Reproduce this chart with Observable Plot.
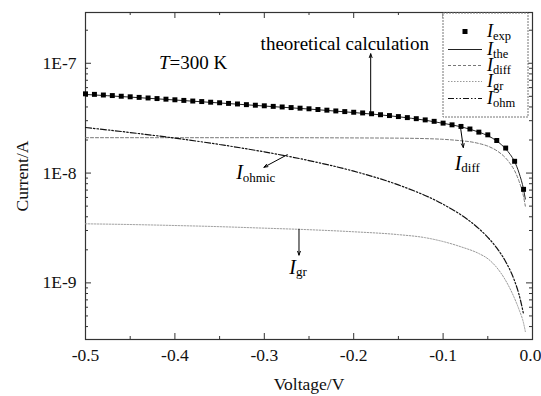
<!DOCTYPE html>
<html><head><meta charset="utf-8">
<script src="https://cdn.jsdelivr.net/npm/d3@7"></script>
<script src="https://cdn.jsdelivr.net/npm/@observablehq/plot@0.6"></script>
<style>
html,body{margin:0;padding:0;background:#fff;}
#chart svg, #chart svg text, #chart svg tspan { font-family: "Liberation Serif", "Times New Roman", serif !important; }
</style>
</head><body><div id="chart"></div>
<script>
// ---- data ----
const expV = [-0.50,-0.49,-0.48,-0.47,-0.46,-0.45,-0.44,-0.43,-0.42,-0.41,-0.40,-0.39,-0.38,-0.37,-0.36,-0.35,-0.34,-0.33,-0.32,-0.31,-0.30,-0.29,-0.28,-0.27,-0.26,-0.25,-0.24,-0.23,-0.22,-0.21,-0.20,-0.19,-0.18,-0.17,-0.16,-0.15,-0.14,-0.13,-0.12,-0.11,-0.10,-0.09,-0.08,-0.07,-0.06,-0.05,-0.04,-0.03,-0.02,-0.01];
const expI = [5.27e-8,5.21e-8,5.14e-8,5.08e-8,5.01e-8,4.95e-8,4.89e-8,4.83e-8,4.77e-8,4.71e-8,4.65e-8,4.59e-8,4.53e-8,4.48e-8,4.42e-8,4.37e-8,4.31e-8,4.26e-8,4.20e-8,4.15e-8,4.10e-8,4.05e-8,4.00e-8,3.95e-8,3.90e-8,3.85e-8,3.79e-8,3.74e-8,3.68e-8,3.63e-8,3.58e-8,3.53e-8,3.47e-8,3.40e-8,3.34e-8,3.27e-8,3.20e-8,3.13e-8,3.05e-8,2.96e-8,2.85e-8,2.75e-8,2.66e-8,2.52e-8,2.36e-8,2.23e-8,1.98e-8,1.69e-8,1.28e-8,7.11e-9];

const theV = [-0.5,-0.45,-0.4,-0.35,-0.3,-0.25,-0.2,-0.15,-0.12,-0.1,-0.08,-0.07,-0.06,-0.05,-0.04,-0.03,-0.025,-0.02,-0.015,-0.01,-0.008];
const theI = [5.2e-8,4.92e-8,4.63e-8,4.35e-8,4.08e-8,3.83e-8,3.56e-8,3.26e-8,3.03e-8,2.84e-8,2.64e-8,2.51e-8,2.36e-8,2.19e-8,1.96e-8,1.66e-8,1.48e-8,1.27e-8,1.0e-8,7.1e-9,5.8e-9];

const diffV = [-0.5,-0.4,-0.3,-0.2,-0.15,-0.12,-0.1,-0.08,-0.07,-0.06,-0.05,-0.04,-0.03,-0.025,-0.02,-0.015,-0.01,-0.008];
const diffI = [2.1e-8,2.1e-8,2.1e-8,2.09e-8,2.08e-8,2.06e-8,2.03e-8,1.97e-8,1.93e-8,1.86e-8,1.76e-8,1.6e-8,1.37e-8,1.22e-8,1.05e-8,8.4e-9,6.1e-9,5.0e-9];

const grV = [-0.5,-0.45,-0.4,-0.35,-0.3,-0.25,-0.2,-0.15,-0.12,-0.1,-0.08,-0.06,-0.05,-0.04,-0.03,-0.02,-0.015,-0.01,-0.008];
const grI = [3.45e-9,3.4e-9,3.33e-9,3.25e-9,3.15e-9,3.05e-9,2.92e-9,2.75e-9,2.58e-9,2.38e-9,2.13e-9,1.85e-9,1.66e-9,1.38e-9,1.05e-9,7.2e-10,5.7e-10,4.3e-10,3.6e-10];

const ohmV = [-0.5,-0.45,-0.4,-0.35,-0.3,-0.25,-0.2,-0.15,-0.1,-0.08,-0.06,-0.05,-0.04,-0.03,-0.02,-0.015,-0.01];
const ohmI = [2.6e-8,2.34e-8,2.08e-8,1.82e-8,1.56e-8,1.3e-8,1.04e-8,7.8e-9,5.2e-9,4.16e-9,3.12e-9,2.6e-9,2.08e-9,1.56e-9,1.04e-9,7.8e-10,5.2e-10];

const xTickVals = [-0.5,-0.4,-0.3,-0.2,-0.1,0.0];
const xTickLabels = ["-0.5","-0.4","-0.3","-0.2","-0.1","0.0"];
const xMinorVals = [-0.45,-0.35,-0.25,-0.15,-0.05];
const yTickVals = [1e-9,1e-8,1e-7];
const yTickLabels = ["1E-9","1E-8","1E-7"];

const legendLabels = ["exp","the","diff","gr","ohm"];

// annotations
const arrowsData = [
  {x1:-0.181, y1:3.47e-8, x2:-0.181, y2:1.22e-7},
  {x1:-0.0807, y1:2.67e-8, x2:-0.0774, y2:1.71e-8},
  {x1:-0.2743, y1:1.47e-8, x2:-0.3004, y2:1.13e-8},
  {x1:-0.2612, y1:3.08e-9, x2:-0.2612, y2:1.79e-9}
];
const subLabels = [
  {x:-0.0796, y:1.23e-8, sub:"diff"},
  {x:-0.324, y:1.01e-8, sub:"ohmic"},
  {x:-0.2646, y:1.39e-9, sub:"gr"}
];
const plainLabels = [
  {x:-0.21, y:1.51e-7, text:"theoretical calculation"}
];

// ---- build ----
const W = 541, H = 396, mL = 85, mR = 9, mT = 12, mB = 57;
const iw = W - mL - mR, ih = H - mT - mB;
const toPts = (xs, ys) => xs.map((v, i) => ({v, i: ys[i]}));
const yMinor = [];
for (const e of [-10,-9,-8,-7]) for (let k = 2; k <= 9; k++) { const v = k * Math.pow(10, e); if (v > 3.05e-10 && v < 2.9e-7) yMinor.push(v); }
const xFmt = d => xTickLabels[xTickVals.findIndex(t => Math.abs(t - d) < 1e-9)];
const yFmt = d => yTickLabels[yTickVals.findIndex(t => Math.abs(t / d - 1) < 1e-6)];
const ink = "#111";

const plot = Plot.plot({
  width: W, height: H, marginLeft: mL, marginRight: mR, marginTop: mT, marginBottom: mB,
  style: {fontFamily: "Liberation Serif, serif", fontSize: "17.5px", color: ink, background: "#fff", overflow: "visible"},
  x: {domain: [-0.5, 0], axis: null},
  y: {type: "log", domain: [3.05e-10, 2.9e-7], ticks: yTickVals, tickFormat: yFmt, tickSize: 0, tickPadding: 9, label: "Current/A", labelAnchor: "center", labelOffset: 70, labelArrow: "none"},
  marks: [
    Plot.axisX(xTickVals.slice(0, 5), {tickFormat: xFmt, tickSize: 0, tickPadding: 9, label: "Voltage/V", labelAnchor: "center", labelOffset: 50, labelArrow: "none"}),
    Plot.axisX(xTickVals.slice(5), {tickFormat: xFmt, tickSize: 0, tickPadding: 9, dx: -2, label: null}),
    Plot.frame({stroke: "#333", strokeWidth: 1.2}),
    // inward ticks
    Plot.tickX(xTickVals, {x: d => d, insetTop: ih - 6, stroke: "#333"}),
    Plot.tickX(xTickVals, {x: d => d, insetBottom: ih - 6, stroke: "#333"}),
    Plot.tickX(xMinorVals, {x: d => d, insetTop: ih - 3, stroke: "#333"}),
    Plot.tickX(xMinorVals, {x: d => d, insetBottom: ih - 3, stroke: "#333"}),
    Plot.tickY(yTickVals, {y: d => d, insetRight: iw - 6, stroke: "#333"}),
    Plot.tickY(yTickVals, {y: d => d, insetLeft: iw - 6, stroke: "#333"}),
    Plot.tickY(yMinor, {y: d => d, insetRight: iw - 3, stroke: "#333"}),
    Plot.tickY(yMinor, {y: d => d, insetLeft: iw - 3, stroke: "#333"}),
    // curves
    Plot.line(toPts(grV, grI), {x: "v", y: "i", stroke: "#999", strokeWidth: 1, strokeDasharray: "1.5,1.5", curve: "monotone-x"}),
    Plot.line(toPts(diffV, diffI), {x: "v", y: "i", stroke: "#777", strokeWidth: 1, strokeDasharray: "3,2", curve: "monotone-x"}),
    Plot.line(toPts(ohmV, ohmI), {x: "v", y: "i", stroke: "#111", strokeWidth: 1.2, strokeDasharray: "6,2,1.5,2,1.5,2", curve: "monotone-x"}),
    Plot.line(toPts(theV, theI), {x: "v", y: "i", stroke: "#222", strokeWidth: 1, curve: "monotone-x"}),
    Plot.dot(toPts(expV, expI), {x: "v", y: "i", symbol: "square", r: 2.8, fill: "#000", stroke: "none"}),
    // annotations
    Plot.arrow(arrowsData, {x1: "x1", y1: "y1", x2: "x2", y2: "y2", stroke: "#000", strokeWidth: 1, headLength: 6, headAngle: 40}),
    Plot.text(plainLabels, {x: "x", y: "y", text: "text", fontSize: 19, fill: "#000"}),
    Plot.text(subLabels, {x: "x", y: "y", text: () => "I", textAnchor: "end", fontSize: 20, fontStyle: "italic", fill: "#000"}),
    Plot.text(subLabels, {x: "x", y: "y", text: "sub", textAnchor: "start", dy: 5, fontSize: 13, fill: "#000"})
  ]
});
document.getElementById("chart").appendChild(plot);

// T=300 K label and legend drawn into the same svg
const svg = d3.select(plot);
const xs = plot.scale("x"), ys = plot.scale("y");
const tl = svg.append("text").attr("x", xs.apply(-0.379)).attr("y", ys.apply(1.0e-7)).attr("dy", "0.35em")
  .attr("text-anchor", "middle").attr("font-size", 19).attr("fill", "#000");
tl.append("tspan").attr("font-style", "italic").text("T");
tl.append("tspan").text("=300 K");

const lg = svg.append("g").attr("text-anchor", "start");
lg.append("rect").attr("x", 443).attr("y", 13).attr("width", 85).attr("height", 104)
  .attr("fill", "#fff").attr("stroke", "#777").attr("stroke-dasharray", "2,1");
const rowY = [31.5, 49.5, 65.5, 81.5, 98.5];
const dashes = [null, null, "3,2", "1.5,1.5", "6,2,1.5,2,1.5,2"];
const strokes = [null, "#222", "#777", "#999", "#111"];
legendLabels.forEach((s, i) => {
  const y = rowY[i];
  if (i === 0) {
    lg.append("rect").attr("x", 462.5).attr("y", y - 2.5).attr("width", 5).attr("height", 5).attr("fill", "#000");
  } else {
    const l = lg.append("line").attr("x1", 448).attr("x2", 482).attr("y1", y).attr("y2", y)
      .attr("stroke", strokes[i]).attr("stroke-width", 1);
    if (dashes[i]) l.attr("stroke-dasharray", dashes[i]);
  }
  const t = lg.append("text").attr("x", 487).attr("y", y + 5.5).attr("fill", "#000").attr("font-size", 18).attr("text-anchor", "start");
  t.append("tspan").attr("font-style", "italic").text("I");
  t.append("tspan").attr("font-size", 12.5).attr("dy", 3).text(s);
});
</script>
</body></html>
